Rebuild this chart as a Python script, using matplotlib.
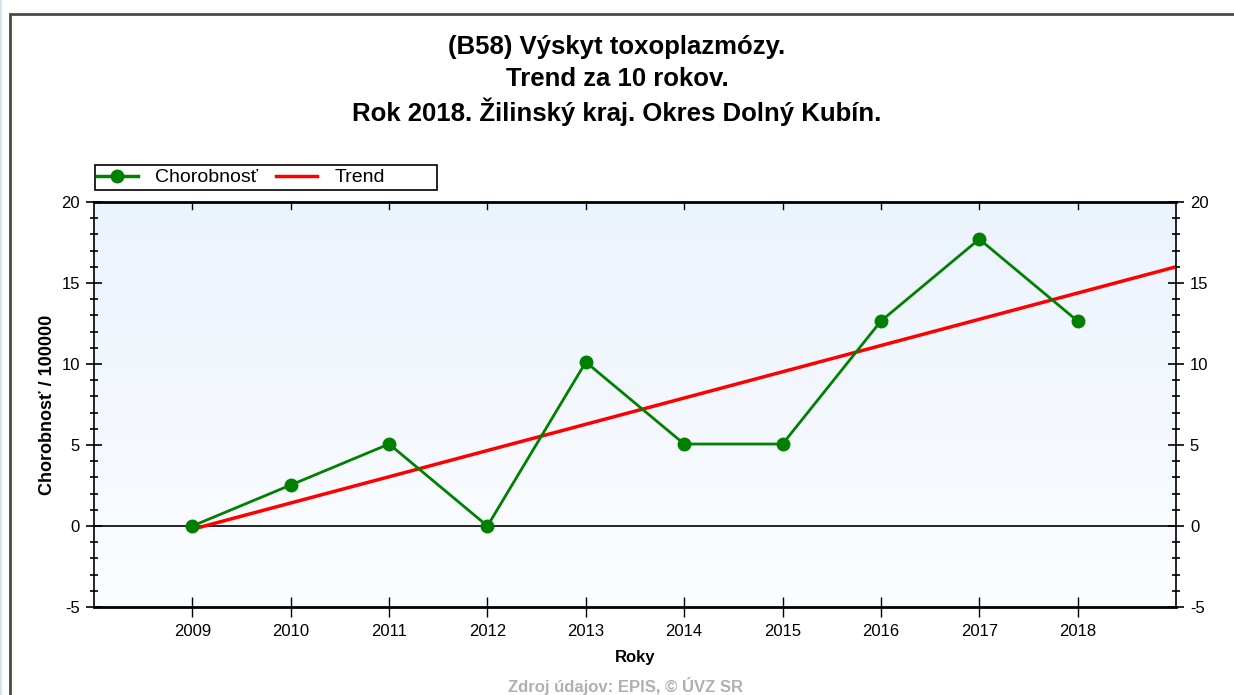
import numpy as np
import matplotlib.pyplot as plt
from matplotlib.colors import LinearSegmentedColormap
from matplotlib.ticker import MultipleLocator
from matplotlib.lines import Line2D

plt.rcParams['font.family'] = ['Liberation Sans', 'DejaVu Sans']
plt.rcParams['axes.unicode_minus'] = False

years = [2009, 2010, 2011, 2012, 2013, 2014, 2015, 2016, 2017, 2018]
rate = [0.0, 2.53, 5.06, 0.0, 10.12, 5.06, 5.06, 12.65, 17.71, 12.65]
# trend line endpoints
trend_years = [2009, 2019]
trend_rate = [-0.2, 16.0]

W, H = 1234, 695
fig = plt.figure(figsize=(W/100, H/100), dpi=100)
ax = fig.add_axes([94/W, 1-607/H, (1176-94)/W, (607-202)/H])

# outer frame of the picture
fig.patches.append(plt.Rectangle((10/W, -0.1), 1.2, 1-14/H+0.1, transform=fig.transFigure,
                                 fill=False, edgecolor='#4a4a4a', lw=2))
fig.patches.append(plt.Rectangle((0, 0), 2/W, 1, transform=fig.transFigure,
                                 color='#d4e3ee', lw=0))

ax.set_xlim(2008, 2019)
ax.set_ylim(-5, 20)

# light blue gradient background
cmap = LinearSegmentedColormap.from_list('bg', ['#fcfdff', '#ebf3fd'])
grad = np.linspace(0, 1, 256).reshape(-1, 1)
ax.imshow(grad, aspect='auto', cmap=cmap, origin='lower',
          extent=[2008, 2019, -5, 20], zorder=0)

ax.axhline(0, color='black', lw=1.2, zorder=1)
ax.plot(trend_years, trend_rate, color='#ff0000', lw=2.5, zorder=2)
ax.plot(years, rate, color='#008000', lw=2, marker='o', markersize=9, zorder=3)

ax.set_xticks(years)
ax.set_xticklabels([str(y) for y in years])
ax.yaxis.set_major_locator(MultipleLocator(5))
ax.yaxis.set_minor_locator(MultipleLocator(1))
ax.tick_params(axis='y', which='major', direction='inout', length=12, width=1.2,
               left=True, right=True, labelleft=True, labelright=True, labelsize=12, pad=4)
ax.tick_params(axis='y', which='minor', direction='inout', length=6, width=1.2,
               left=True, right=True)
ax.tick_params(axis='x', which='major', direction='inout', length=14, width=1,
               bottom=True, top=False, labelsize=12, pad=5)
for y in years:
    ax.plot([y, y], [20, 19.55], color='black', lw=1, zorder=4, clip_on=False)

for s in ax.spines.values():
    s.set_linewidth(1.2)
ax.spines['top'].set_linewidth(2)
ax.spines['bottom'].set_linewidth(2)

ax.set_ylabel('Chorobnosť / 100000', fontsize=13, fontweight='bold', labelpad=4)
ax.set_xlabel('Roky', fontsize=12, fontweight='bold', labelpad=8)

fig.text(0.5, 1-47/H, '(B58) Výskyt toxoplazmózy.', ha='center', va='center',
         fontsize=18.5, fontweight='bold')
fig.text(0.5, 1-79/H, 'Trend za 10 rokov.', ha='center', va='center',
         fontsize=18.5, fontweight='bold')
fig.text(0.5, 1-112/H, 'Rok 2018. Žilinský kraj. Okres Dolný Kubín.', ha='center',
         va='center', fontsize=18.5, fontweight='bold')
fig.text(625/W, 1-686/H, 'Zdroj údajov: EPIS, © ÚVZ SR', ha='center', va='center',
         fontsize=12, fontweight='bold', color='#b0b0b0')

# legend box
fig.patches.append(plt.Rectangle((95/W, 1-190/H), (437-95)/W, 25/H, transform=fig.transFigure,
                                 fill=True, facecolor='white', edgecolor='black', lw=1.2))
handles = [Line2D([], [], color='#008000', lw=2.5, marker='o', markersize=9),
           Line2D([], [], color='#ff0000', lw=2.5)]
fig.legend(handles, ['Chorobnosť', 'Trend'], loc='center left',
           bbox_to_anchor=(97/W, 1-177.5/H), ncol=2, frameon=False,
           fontsize=14, handlelength=2.1, columnspacing=0.9,
           handletextpad=0.9, borderaxespad=0, borderpad=0)

fig.savefig('out.png', dpi=100)
